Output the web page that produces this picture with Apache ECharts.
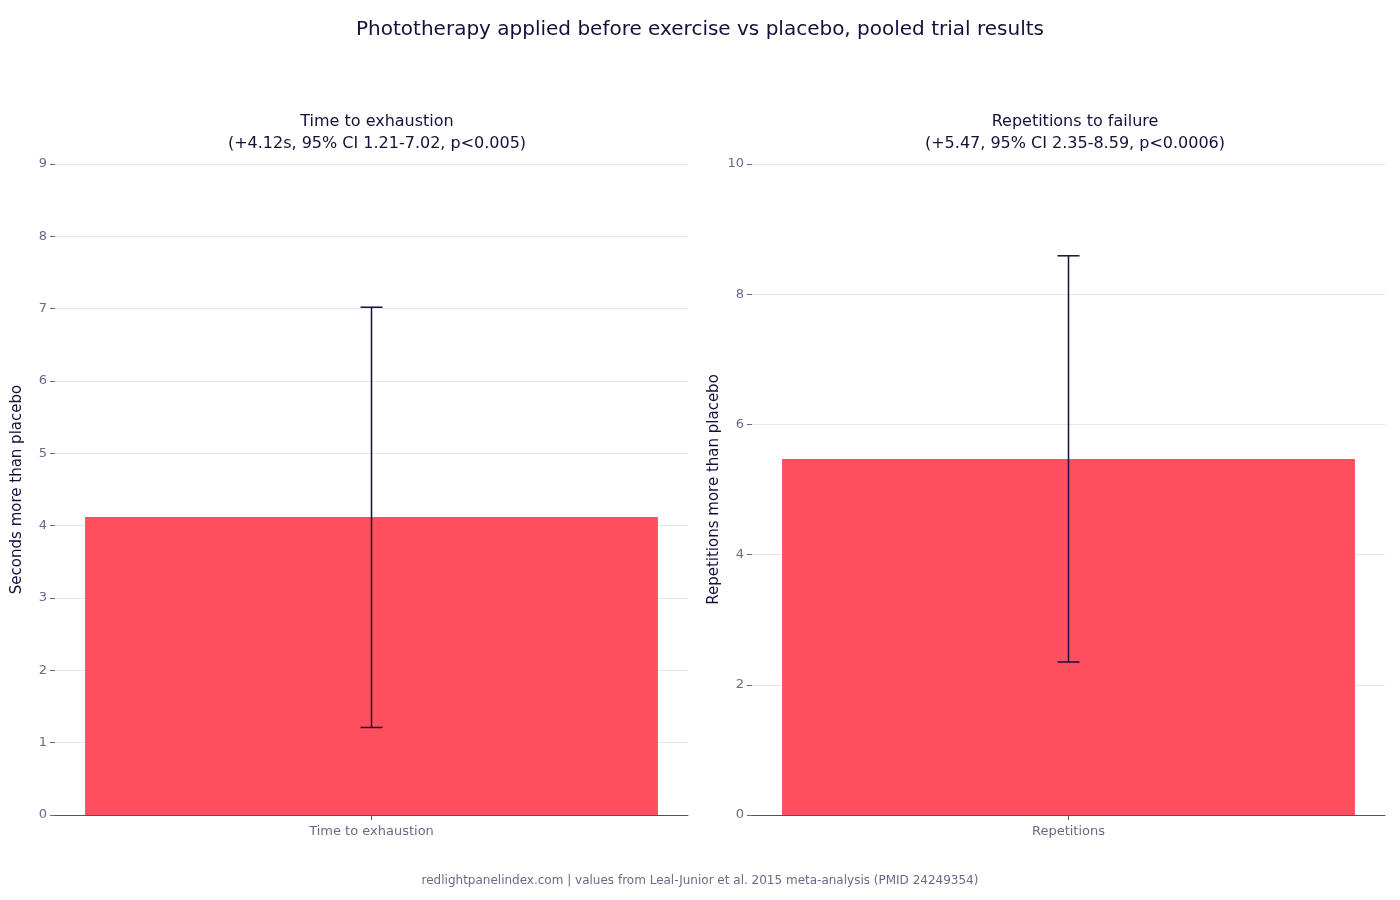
<!DOCTYPE html>
<html><head><meta charset="utf-8">
<script src="https://cdn.jsdelivr.net/npm/echarts@6/dist/echarts.min.js"></script>
<style>html,body{margin:0;padding:0;background:#fff}#c{width:1400px;height:900px}</style>
</head><body><div id="c"></div>
<script>
const catsLeft = ['Time to exhaustion'];
const catsRight = ['Repetitions'];
const valLeft = [4.12], lowLeft = [1.21], highLeft = [7.02];
const valRight = [5.47], lowRight = [2.35], highRight = [8.59];
const dark = '#14103a', grey = '#6b6987', red = '#ff4f5e', font = 'DejaVu Sans';
const chart = echarts.init(document.getElementById('c'));
function errItem(params, api) {
  const x = api.value(0), lo = api.coord([x, api.value(1)]), hi = api.coord([x, api.value(2)]);
  const w = 11, st = {stroke: dark, lineWidth: 1.5};
  return {type: 'group', children: [
    {type: 'line', shape: {x1: lo[0], y1: lo[1], x2: hi[0], y2: hi[1]}, style: st},
    {type: 'line', shape: {x1: lo[0]-w, y1: lo[1], x2: lo[0]+w, y2: lo[1]}, style: st},
    {type: 'line', shape: {x1: hi[0]-w, y1: hi[1], x2: hi[0]+w, y2: hi[1]}, style: st}
  ]};
}
const yAxisBase = (name, max, interval) => ({
  type: 'value', min: 0, max, interval, name, nameLocation: 'middle', nameGap: 30,
  nameTextStyle: {color: dark, fontSize: 15, fontFamily: font},
  axisLine: {show: false}, axisTick: {show: true, length: 5, lineStyle: {color: grey}},
  axisLabel: {color: grey, fontSize: 13, fontFamily: font, margin: 8},
  splitLine: {lineStyle: {color: '#e6e6ef'}}
});
const xAxisBase = (data) => ({
  type: 'category', data, axisLine: {lineStyle: {color: '#555'}},
  axisTick: {show: true, alignWithLabel: true, length: 5, lineStyle: {color: '#555'}},
  axisLabel: {color: grey, fontSize: 13, fontFamily: font, margin: 10}
});
chart.setOption({
  animation: false,
  title: [
    {text: 'Phototherapy applied before exercise vs placebo, pooled trial results', left: 'center', top: 15,
      textStyle: {color: dark, fontSize: 20, fontWeight: 'normal', fontFamily: font}},
    {text: 'Time to exhaustion\n(+4.12s, 95% CI 1.21-7.02, p<0.005)', left: 372, top: 106, textAlign: 'center',
      textStyle: {color: dark, fontSize: 16, fontWeight: 'normal', fontFamily: font, lineHeight: 22}},
    {text: 'Repetitions to failure\n(+5.47, 95% CI 2.35-8.59, p<0.0006)', left: 1070, top: 106, textAlign: 'center',
      textStyle: {color: dark, fontSize: 16, fontWeight: 'normal', fontFamily: font, lineHeight: 22}},
    {text: 'redlightpanelindex.com | values from Leal-Junior et al. 2015 meta-analysis (PMID 24249354)', left: 'center', top: 870,
      textStyle: {color: grey, fontSize: 12, fontWeight: 'normal', fontFamily: font}}
  ],
  grid: [
    {left: 55, width: 633, top: 164, height: 651},
    {left: 752, width: 633, top: 164, height: 651}
  ],
  xAxis: [Object.assign(xAxisBase(catsLeft), {gridIndex: 0}), Object.assign(xAxisBase(catsRight), {gridIndex: 1})],
  yAxis: [Object.assign(yAxisBase('Seconds more than placebo', 9, 1), {gridIndex: 0}),
          Object.assign(yAxisBase('Repetitions more than placebo', 10, 2), {gridIndex: 1})],
  series: [
    {type: 'bar', xAxisIndex: 0, yAxisIndex: 0, data: valLeft, barWidth: '90.5%', itemStyle: {color: red}},
    {type: 'bar', xAxisIndex: 1, yAxisIndex: 1, data: valRight, barWidth: '90.5%', itemStyle: {color: red}},
    {type: 'custom', xAxisIndex: 0, yAxisIndex: 0, renderItem: errItem, z: 10,
      data: catsLeft.map((c, i) => [i, lowLeft[i], highLeft[i]])},
    {type: 'custom', xAxisIndex: 1, yAxisIndex: 1, renderItem: errItem, z: 10,
      data: catsRight.map((c, i) => [i, lowRight[i], highRight[i]])}
  ]
});
</script></body></html>
